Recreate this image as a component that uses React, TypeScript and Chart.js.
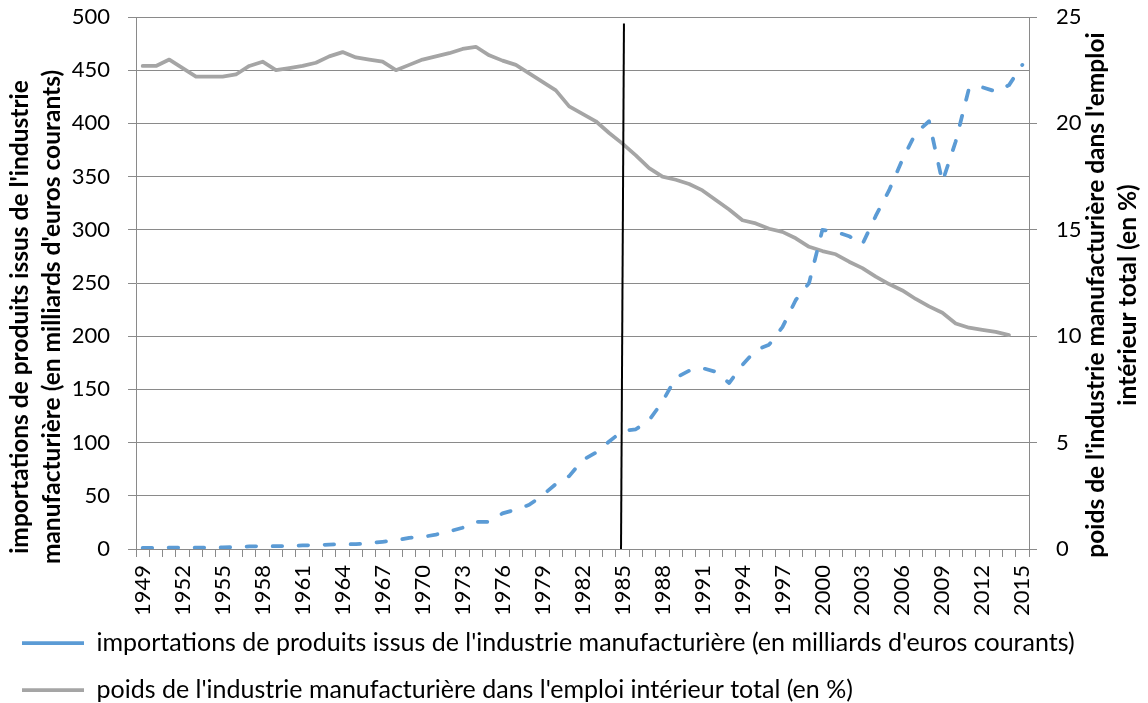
import React, { useEffect, useRef } from 'react';
import { Chart, registerables } from 'chart.js';

Chart.register(...registerables);

// ---------- data ----------
const years = [
  '1949', '1950', '1951', '1952', '1953', '1954', '1955', '1956', '1957', '1958',
  '1959', '1960', '1961', '1962', '1963', '1964', '1965', '1966', '1967', '1968',
  '1969', '1970', '1971', '1972', '1973', '1974', '1975', '1976', '1977', '1978',
  '1979', '1980', '1981', '1982', '1983', '1984', '1985', '1986', '1987', '1988',
  '1989', '1990', '1991', '1992', '1993', '1994', '1995', '1996', '1997', '1998',
  '1999', '2000', '2001', '2002', '2003', '2004', '2005', '2006', '2007', '2008',
  '2009', '2010', '2011', '2012', '2013', '2014', '2015',
];

// importations de produits issus de l'industrie manufacturière (milliards d'euros courants)
const importsBn = [
  1.0, 1.2, 1.4, 1.4, 1.3, 1.4, 1.5, 1.8, 2.4, 2.6,
  2.6, 2.9, 3.3, 3.7, 4.1, 4.5, 4.6, 5.5, 6.8, 8.0,
  10.5, 11.3, 13.5, 16.5, 20, 25.5, 25.5, 33.5, 37, 41.5,
  50.5, 61, 68.5, 83.5, 90.5, 101, 111, 112.5, 121, 138.5,
  161, 167.5, 170, 166.5, 156, 173, 187, 192, 208.5, 234,
  250, 300, 298, 294, 286.5, 313, 337, 366, 391, 402,
  345, 383, 433, 434, 430, 436, 455,
];

// poids de l'industrie manufacturière dans l'emploi intérieur total (%)
const manufShare = [
  22.7, 22.7, 23.0, 22.6, 22.2, 22.2, 22.2, 22.3, 22.7, 22.9,
  22.5, 22.6, 22.7, 22.85, 23.15, 23.35, 23.1, 23.0, 22.9, 22.5,
  22.75, 23.0, 23.15, 23.3, 23.5, 23.6, 23.2, 22.95, 22.75, 22.35,
  21.95, 21.55, 20.8, 20.45, 20.1, 19.55, 19.05, 18.5, 17.9, 17.5,
  17.35, 17.15, 16.85, 16.4, 15.95, 15.45, 15.3, 15.05, 14.9, 14.6,
  14.2, 14.0, 13.85, 13.5, 13.2, 12.8, 12.45, 12.15, 11.75, 11.4,
  11.1, 10.6, 10.4, 10.3, 10.2, 10.05, null,
];

const seriesLabels = [
  "importations de produits issus de l'industrie manufacturière (en milliards d'euros courants)",
  "poids de l'industrie manufacturière dans l'emploi intérieur total (en %)",
];

const leftTitle = [
  "importations de produits issus de l'industrie",
  "manufacturière (en milliards d'euros courants)",
];
const rightTitle = [
  "poids de l'industrie manufacturière dans l'emploi",
  'intérieur total (en %)',
];

const leftRange = [0, 500, 50];
const rightRange = [0, 25, 5];
const labelEvery = 3;

// vertical marker at 1985
const markerYear = '1985';
const markerTop = 494;
const markerLean = 0.11;

// ---------- styles ----------
const FONT = 'Lato, "Open Sans", sans-serif';
const GRID = '#8a8a8a';
const BLUE = '#5B9BD5';
const GRAY = '#A5A5A5';

const markerPlugin = {
  id: 'marker1985',
  afterDatasetsDraw(chart: any) {
    const x = chart.scales.x;
    const y = chart.scales.y;
    const i = years.indexOf(markerYear);
    const ctx = chart.ctx;
    ctx.save();
    ctx.strokeStyle = '#000';
    ctx.lineWidth = 2;
    ctx.beginPath();
    ctx.moveTo(x.getPixelForValue(i + markerLean), y.getPixelForValue(markerTop));
    ctx.lineTo(x.getPixelForValue(i - markerLean), y.getPixelForValue(0));
    ctx.stroke();
    ctx.restore();
  },
};

function drawRotated(ctx: CanvasRenderingContext2D, lines: string[], baselines: number[], centerY: number) {
  ctx.save();
  ctx.font = `bold 24.5px ${FONT}`;
  ctx.fillStyle = '#000';
  ctx.textAlign = 'center';
  ctx.textBaseline = 'alphabetic';
  lines.forEach((t, k) => {
    ctx.save();
    ctx.translate(baselines[k], centerY);
    ctx.rotate(-Math.PI / 2);
    ctx.fillText(t, 0, 0);
    ctx.restore();
  });
  ctx.restore();
}

const titlesPlugin = {
  id: 'axisTitles',
  afterDraw(chart: any) {
    const ctx = chart.ctx;
    drawRotated(ctx, leftTitle, [28, 60], 317);
    drawRotated(ctx, rightTitle, [1104, 1136], 295);
  },
};

export default function App() {
  const ref = useRef<HTMLCanvasElement | null>(null);

  useEffect(() => {
    document.body.style.margin = '0';
    document.body.style.overflow = 'hidden';
    const canvas = ref.current;
    if (!canvas) return;

    const chart = new Chart(canvas, {
      type: 'line',
      data: {
        labels: years,
        datasets: [
          {
            label: seriesLabels[0],
            data: importsBn,
            yAxisID: 'y',
            borderColor: BLUE,
            backgroundColor: BLUE,
            borderWidth: 3.75,
            borderDash: [9.5, 16.5],
            borderCapStyle: 'round',
            borderJoinStyle: 'round',
            pointRadius: 0,
            tension: 0,
            fill: false,
          },
          {
            label: seriesLabels[1],
            data: manufShare,
            yAxisID: 'y1',
            borderColor: GRAY,
            backgroundColor: GRAY,
            borderWidth: 3.75,
            borderCapStyle: 'round',
            borderJoinStyle: 'round',
            pointRadius: 0,
            tension: 0,
            fill: false,
          },
        ],
      },
      options: {
        responsive: false,
        animation: false,
        devicePixelRatio: 1,
        layout: { padding: { top: 17, bottom: -9.5, left: 0, right: 0 } },
        plugins: {
          tooltip: { enabled: false },
          title: { display: false },
          legend: {
            display: true,
            position: 'bottom',
            align: 'start',
            labels: {
              color: '#000',
              font: { family: FONT, size: 25 },
              usePointStyle: true,
              pointStyle: 'line',
              pointStyleWidth: 62,
              padding: 22,
            },
          },
        },
        scales: {
          x: {
            type: 'category',
            offset: true,
            grid: {
              display: true,
              drawOnChartArea: false,
              drawTicks: true,
              tickLength: 8,
              color: GRID,
              offset: true,
            },
            border: { display: true, color: GRID, width: 1 },
            ticks: {
              autoSkip: false,
              maxRotation: 90,
              minRotation: 90,
              padding: 8,
              color: '#000',
              font: { family: FONT, size: 22 },
              callback: (_v: any, idx: number) => (idx % labelEvery === 0 ? years[idx] : ''),
            },
            afterFit: (s: any) => {
              s.height = 59.5;
              // let the rotated year labels run into the legend band instead of being clipped
              s._computeLabelArea = () => undefined;
            },
          },
          y: {
            type: 'linear',
            position: 'left',
            min: leftRange[0],
            max: leftRange[1],
            ticks: {
              stepSize: leftRange[2],
              padding: 18,
              color: '#000',
              font: { family: FONT, size: 22 },
            },
            grid: { color: GRID, lineWidth: 1, tickLength: 8, drawTicks: true },
            border: { display: true, color: GRID, width: 1 },
            afterFit: (s: any) => {
              s.width = 136;
              s.paddingTop = 0;
              s.paddingBottom = 0;
            },
          },
          y1: {
            type: 'linear',
            position: 'right',
            min: rightRange[0],
            max: rightRange[1],
            ticks: {
              stepSize: rightRange[2],
              padding: 19,
              color: '#000',
              font: { family: FONT, size: 22 },
            },
            grid: { drawOnChartArea: false, color: GRID, lineWidth: 1, tickLength: 8, drawTicks: true },
            border: { display: true, color: GRID, width: 1 },
            afterFit: (s: any) => {
              s.width = 119;
              s.paddingTop = 0;
              s.paddingBottom = 0;
            },
          },
        },
      },
      plugins: [markerPlugin, titlesPlugin],
    } as any);

    return () => chart.destroy();
  }, []);

  return (
    <div style={{ width: 1148, height: 703, position: 'relative' }}>
      <canvas ref={ref} width={1148} height={703} style={{ width: 1148, height: 703, display: 'block' }} />
    </div>
  );
}
